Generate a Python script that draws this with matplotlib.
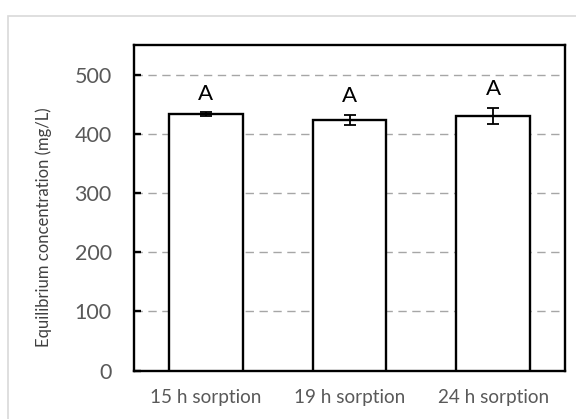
import matplotlib
matplotlib.use("Agg")
import matplotlib.pyplot as plt
from matplotlib.patches import Rectangle

categories = ["15 h sorption", "19 h sorption", "24 h sorption"]
values = [433, 423, 430]
errors = [3, 9, 14]
letters = ["A", "A", "A"]

plt.rcParams["font.family"] = ["Lato", "DejaVu Sans"]

fig = plt.figure(figsize=(5.76, 4.19), dpi=100)
W, H = 576, 419
# outer chart-area border (runs off the right/bottom edge like the source)
fig.patches.append(Rectangle((8 / W, -10 / H), 1.0, (419 - 16 + 10) / H,
                             transform=fig.transFigure, fill=False,
                             edgecolor="#d9d9d9", linewidth=1.2))

ax = fig.add_axes([134 / W, 1 - 370.5 / H, (565 - 134) / W, (370.5 - 45) / H])
x = range(len(categories))
ax.bar(x, values, width=0.515, color="white", edgecolor="black", linewidth=1.7, zorder=3)
ax.errorbar(x, values, yerr=errors, fmt="none", ecolor="black", elinewidth=1.3,
            capsize=4.3, capthick=1.3, zorder=4)
for i, (v, e, t) in enumerate(zip(values, errors, letters)):
    ax.annotate(t, xy=(i, v + e), xytext=(0, 9), textcoords="offset points",
                ha="center", va="baseline", fontsize=16, color="black")

ax.set_xlim(-0.5, 2.5)
ax.set_ylim(0, 550)
ax.set_yticks([0, 100, 200, 300, 400, 500])
ax.set_xticks(list(x))
ax.set_xticklabels(categories)
ax.yaxis.grid(True, linestyle=(0, (6, 4)), color="#a6a6a6", linewidth=1.0, zorder=0)
ax.set_axisbelow(True)
ax.tick_params(axis="y", direction="in", length=5, width=1.7, labelsize=15.5,
               labelcolor="#595959", pad=16)
ax.tick_params(axis="x", length=0, labelsize=13.6, labelcolor="#595959", pad=13)
for s in ax.spines.values():
    s.set_linewidth(1.7)
    s.set_color("black")
ax.set_ylabel("Equilibrium concentration (mg/L)", fontsize=12, color="#404040")
ax.yaxis.set_label_coords(-0.19, 0.44)

fig.savefig("out.png", dpi=100)
